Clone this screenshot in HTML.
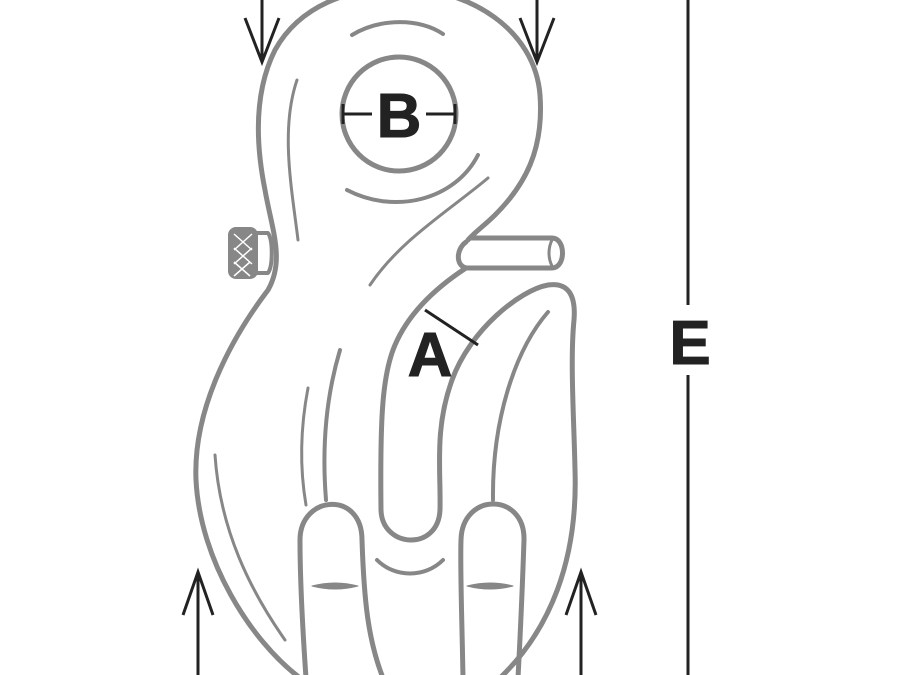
<!DOCTYPE html>
<html><head><style>html,body{margin:0;padding:0;background:#fff;}svg{display:block}</style></head>
<body>
<svg width="900" height="675" viewBox="0 0 900 675" xmlns="http://www.w3.org/2000/svg">
<g fill="none" stroke="#878787" stroke-width="5" stroke-linecap="round" stroke-linejoin="round">
<path d="M300,678 C250,640 200,560 196,480 C193,410 230,340 268,290 C285,260 272,230 265,190 C255,140 255,90 275,50 C300,5 350,-12 399,-12 C470,-12 535,30 540,95 C544,150 525,185 495,215 C485,225 475,232 468,240"/>
<path d="M470,238 L552,238 C566,238 566,268 552,268 L468,268 C456,268 455,250 466,242"/>
<path d="M552,240 C548,248 548,258 552,266" stroke-width="3"/>
<path d="M466,268 C440,285 410,310 395,345 C382,375 380,420 381,510 C382,548 438,552 440,510 C441,470 434,430 452,380 C470,330 520,290 548,285 C568,282 576,295 574,320 C570,360 574,420 575,470 C578,560 550,630 500,678"/>
<path d="M306,678 C302,620 300,570 300,540 C300,495 362,490 362,540 C364,600 368,640 383,678"/>
<path d="M463,678 C462,620 460,570 461,540 C462,492 525,492 524,540 C522,600 520,640 518,678"/>
<circle cx="399" cy="114" r="57"/>
<path d="M352,35 C380,18 420,18 443,34" stroke-width="4"/>
<path d="M347,190 C395,215 455,200 478,155" stroke-width="4"/>
<path d="M370,285 C400,240 450,210 488,178" stroke-width="3"/>
<path d="M297,80 C280,130 292,190 298,240" stroke-width="3"/>
<path d="M215,455 C220,530 250,590 285,640" stroke-width="3"/>
<path d="M308,388 C300,430 300,470 306,505" stroke-width="3"/>
<path d="M340,350 C325,400 322,450 326,500" stroke-width="4"/>
<path d="M548,312 C515,350 492,420 493,500" stroke-width="4"/>
<path d="M377,560 C395,578 425,578 443,560" stroke-width="4"/>
<path d="M312,586 Q335,580 358,586 Q335,592 312,586Z" fill="#878787" stroke-width="1"/>
<path d="M467,586 Q490,580 513,586 Q490,592 467,586Z" fill="#878787" stroke-width="1"/>
<rect x="228" y="227" width="30" height="52" rx="8" fill="#878787" stroke="none"/>
<path d="M256,233 L268,233 C273,240 273,266 268,273 L256,273" stroke-width="4"/>
</g>
<g stroke="#fff" stroke-width="1.5">
<path d="M234,234 L252,250 M252,234 L234,250 M234,248 L252,264 M252,248 L234,264 M234,262 L250,276 M250,262 L234,276"/>
</g>
<g stroke="#222" stroke-width="3" fill="none">
<path d="M262,0 V62 M245,18 L262,62 L279,18"/>
<path d="M537,0 V62 M520,18 L537,62 L554,18"/>
<path d="M198,675 V572 M183,615 L198,572 L213,615"/>
<path d="M581,675 V572 M566,615 L581,572 L596,615"/>
<path d="M688,0 V305 M688,375 V675"/>
<path d="M343,114 H372 M426,114 H455 M343,104 V124 M455,104 V124"/>
<path d="M425,310 L478,345"/>
</g>
<g font-family="Liberation Sans, sans-serif" font-weight="bold" fill="#222" text-anchor="middle" stroke="#222" stroke-width="1">
<text x="399" y="137" font-size="62">B</text>
<text x="430" y="376" font-size="62">A</text>
<text x="690" y="364" font-size="62">E</text>
</g>
</svg>
</body></html>
